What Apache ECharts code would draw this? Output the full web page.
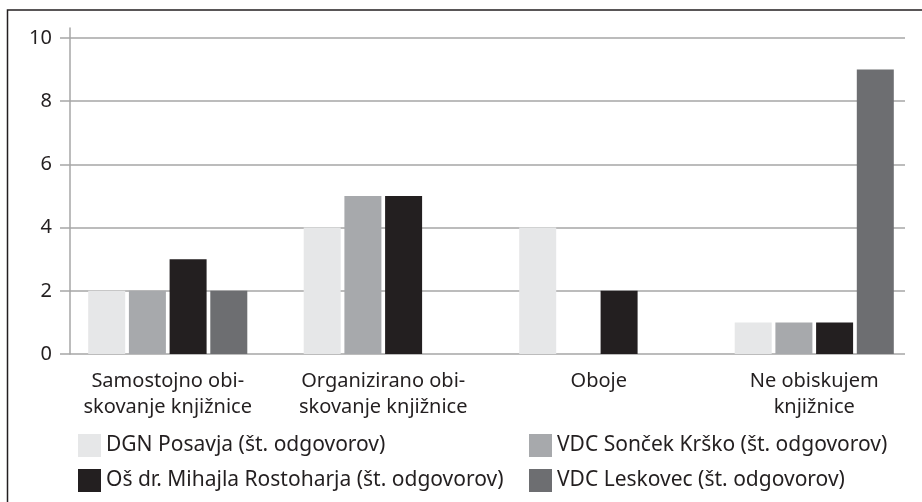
<!DOCTYPE html>
<html>
<head>
<meta charset="utf-8">
<script src="https://cdn.jsdelivr.net/npm/echarts@6/dist/echarts.min.js"></script>
<style>
  html, body { margin: 0; padding: 0; background: #fff; }
  #chart { width: 922px; height: 502px; }
</style>
</head>
<body>
<div id="chart"></div>
<script>
// kategorije in vrednosti
const categories = [
    "Samostojno obi-\nskovanje knjižnice",
    "Organizirano obi-\nskovanje knjižnice",
    "Oboje",
    "Ne obiskujem\nknjižnice"
]
const seriesNames = [
    "DGN Posavja (št. odgovorov)",
    "VDC Sonček Krško (št. odgovorov)",
    "Oš dr. Mihajla Rostoharja (št. odgovorov)",
    "VDC Leskovec (št. odgovorov)"
]
const dgnPosavja = [2, 4, 4, 1]
const vdcSoncek = [2, 5, 0, 1]
const osRostoharja = [3, 5, 2, 1]
const vdcLeskovec = [2, 0, 0, 9]
const yTicks = [0, 2, 4, 6, 8, 10]

const colors = ["#e6e7e8", "#a7a9ac", "#231f20", "#6d6e71"]
const textColor = "#231f20"
const gridColor = "#a6a6a6"
const fontFamily = "Noto Sans"

const seriesData = [dgnPosavja, vdcSoncek, osRostoharja, vdcLeskovec]

// legenda: 2 stolpca x 2 vrstici
const legendPos = [
    {left: 78, top: 434},
    {left: 529, top: 434},
    {left: 78, top: 469},
    {left: 529, top: 469}
]

const chart = echarts.init(document.getElementById("chart"))

let series = seriesNames.map((name, i) => {
    return {
        name: name,
        type: "bar",
        xAxisIndex: 2,
        yAxisIndex: 2,
        data: seriesData[i],
        barWidth: 37,
        barGap: "10%",
        itemStyle: { color: colors[i] },
        emphasis: { disabled: true }
    }
})

let legends = seriesNames.map((name, i) => {
    return {
        left: legendPos[i].left,
        top: legendPos[i].top,
        data: [name],
        itemWidth: 23,
        itemHeight: 23,
        icon: "rect",
        padding: 0,
        textStyle: { color: textColor, fontSize: 21, fontFamily: fontFamily },
        selectedMode: false
    }
})

const option = {
    animation: false,
    textStyle: { fontFamily: fontFamily },
    graphic: [{
        // okvir slike (zgoraj in levo)
        type: "rect",
        shape: { x: 7.5, y: 10, width: 1000, height: 1000 },
        style: { fill: null, stroke: textColor, lineWidth: 1.5 },
        silent: true
    }],
    legend: legends,
    grid: [
        // os y (črta nekoliko nad 10)
        { left: 70, right: 17, top: 28, bottom: 148 },
        // mreža in oznake
        { left: 70, right: 17, top: 38, bottom: 148 },
        // stolpci
        { left: 60, right: -2, top: 38, bottom: 148 }
    ],
    xAxis: [
        { gridIndex: 0, type: "category", data: categories, show: false },
        { gridIndex: 1, type: "category", data: categories, show: false },
        {
            gridIndex: 2,
            type: "category",
            data: categories,
            axisLine: { show: false },
            axisTick: { show: false },
            axisLabel: {
                color: textColor,
                fontSize: 20,
                lineHeight: 26,
                margin: 14,
                interval: 0
            }
        }
    ],
    yAxis: [
        {
            gridIndex: 0,
            type: "value",
            min: 0,
            max: 10 * 326 / 316,
            axisLine: { show: true, lineStyle: { color: gridColor, width: 1.5 } },
            axisTick: { show: false },
            axisLabel: { show: false },
            splitLine: { show: false }
        },
        {
            gridIndex: 1,
            type: "value",
            min: yTicks[0],
            max: yTicks[yTicks.length - 1],
            interval: 2,
            axisLine: { show: false },
            axisTick: { show: true, length: 10, lineStyle: { color: gridColor, width: 1.5 } },
            axisLabel: { color: textColor, fontSize: 20, margin: 18 },
            splitLine: { show: true, lineStyle: { color: gridColor, width: 1.5 } }
        },
        { gridIndex: 2, type: "value", min: 0, max: 10, show: false }
    ],
    series: series
}

chart.setOption(option)
</script>
</body>
</html>
